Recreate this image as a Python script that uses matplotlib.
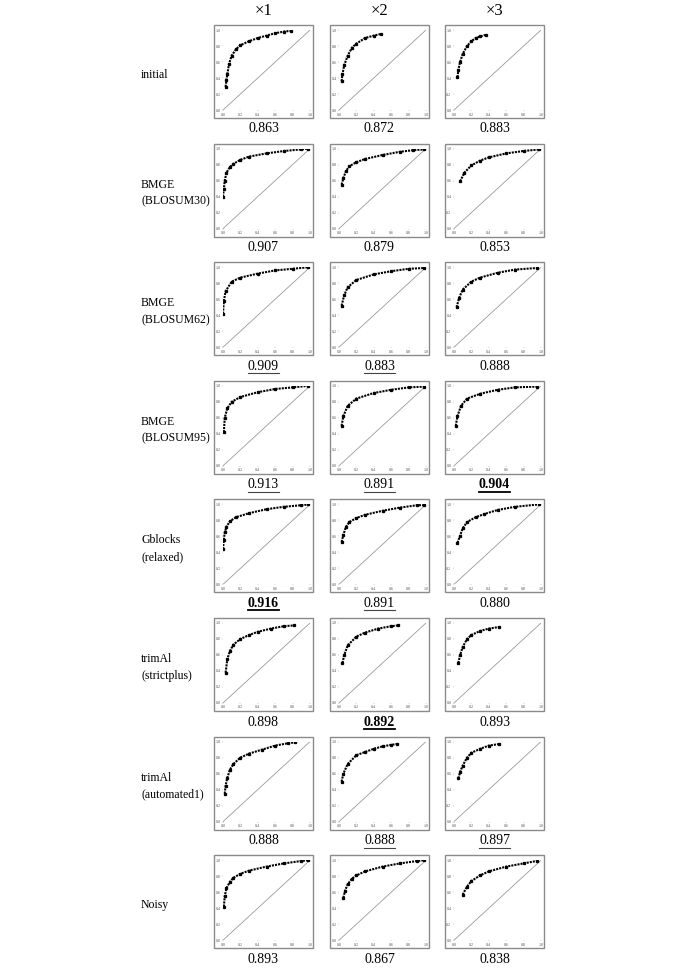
import matplotlib
matplotlib.use("Agg")
import matplotlib.pyplot as plt
from matplotlib.patches import Rectangle
from matplotlib.lines import Line2D

W, H = 685, 969
col_titles = ["×1", "×2", "×3"]
row_labels = ["initial", "BMGE\n(BLOSUM30)", "BMGE\n(BLOSUM62)", "BMGE\n(BLOSUM95)",
              "Gblocks\n(relaxed)", "trimAl\n(strictplus)", "trimAl\n(automated1)", "Noisy"]

# AUC values and styles ("p" plain, "u" underline, "b" bold+underline)
auc_values = [
    ["0.863", "0.872", "0.883"],
    ["0.907", "0.879", "0.853"],
    ["0.909", "0.883", "0.888"],
    ["0.913", "0.891", "0.904"],
    ["0.916", "0.891", "0.880"],
    ["0.898", "0.892", "0.893"],
    ["0.888", "0.888", "0.897"],
    ["0.893", "0.867", "0.838"],
]
auc_styles = [
    ["p", "p", "p"],
    ["p", "p", "p"],
    ["u", "u", "p"],
    ["u", "u", "b"],
    ["b", "u", "p"],
    ["p", "b", "p"],
    ["p", "u", "u"],
    ["p", "p", "p"],
]

# ROC curve points (false positive rate, true positive rate) per panel
fpr_initial_1 = [0.03, 0.04, 0.05, 0.07, 0.10, 0.15, 0.20, 0.30, 0.40, 0.50, 0.60, 0.70, 0.78]
tpr_initial_1 = [0.29, 0.38, 0.45, 0.58, 0.68, 0.76, 0.81, 0.86, 0.90, 0.93, 0.96, 0.98, 0.99]
fpr_initial_2 = [0.03, 0.04, 0.06, 0.10, 0.15, 0.20, 0.30, 0.40, 0.48]
tpr_initial_2 = [0.36, 0.45, 0.56, 0.68, 0.78, 0.83, 0.90, 0.93, 0.95]
fpr_initial_3 = [0.04, 0.05, 0.07, 0.10, 0.15, 0.20, 0.25, 0.30, 0.37]
tpr_initial_3 = [0.41, 0.50, 0.60, 0.70, 0.80, 0.86, 0.90, 0.92, 0.94]

fpr_b30_1 = [0.00, 0.01, 0.02, 0.04, 0.08, 0.12, 0.20, 0.30, 0.50, 0.70, 0.90, 0.98]
tpr_b30_1 = [0.40, 0.50, 0.60, 0.70, 0.77, 0.81, 0.86, 0.90, 0.94, 0.97, 0.99, 1.00]
fpr_b30_2 = [0.03, 0.05, 0.08, 0.12, 0.20, 0.30, 0.50, 0.70, 0.85, 0.98]
tpr_b30_2 = [0.55, 0.63, 0.72, 0.78, 0.83, 0.87, 0.92, 0.96, 0.98, 0.99]
fpr_b30_3 = [0.07, 0.12, 0.20, 0.30, 0.40, 0.60, 0.80, 0.98]
tpr_b30_3 = [0.59, 0.70, 0.79, 0.85, 0.89, 0.94, 0.97, 0.99]

fpr_b62_1 = [0.00, 0.01, 0.03, 0.10, 0.20, 0.40, 0.60, 0.80, 0.98]
tpr_b62_1 = [0.42, 0.58, 0.70, 0.82, 0.87, 0.92, 0.96, 0.98, 1.00]
fpr_b62_2 = [0.03, 0.06, 0.10, 0.20, 0.40, 0.60, 0.80, 0.98]
tpr_b62_2 = [0.52, 0.65, 0.75, 0.84, 0.91, 0.95, 0.98, 0.99]
fpr_b62_3 = [0.03, 0.06, 0.10, 0.20, 0.30, 0.50, 0.70, 0.95]
tpr_b62_3 = [0.50, 0.62, 0.72, 0.82, 0.87, 0.93, 0.97, 0.99]

fpr_b95_1 = [0.01, 0.02, 0.05, 0.10, 0.20, 0.40, 0.60, 0.80, 0.98]
tpr_b95_1 = [0.42, 0.60, 0.72, 0.80, 0.86, 0.92, 0.96, 0.98, 1.00]
fpr_b95_2 = [0.03, 0.05, 0.10, 0.20, 0.40, 0.60, 0.80, 0.98]
tpr_b95_2 = [0.50, 0.62, 0.75, 0.84, 0.91, 0.95, 0.98, 0.99]
fpr_b95_3 = [0.02, 0.04, 0.08, 0.15, 0.30, 0.50, 0.70, 0.95]
tpr_b95_3 = [0.50, 0.62, 0.75, 0.84, 0.90, 0.95, 0.98, 0.99]

fpr_gb_1 = [0.00, 0.01, 0.02, 0.04, 0.08, 0.15, 0.30, 0.50, 0.70, 0.90, 0.98]
tpr_gb_1 = [0.44, 0.56, 0.65, 0.72, 0.79, 0.84, 0.89, 0.94, 0.97, 0.99, 1.00]
fpr_gb_2 = [0.03, 0.05, 0.08, 0.12, 0.20, 0.30, 0.50, 0.70, 0.90, 0.98]
tpr_gb_2 = [0.53, 0.62, 0.72, 0.78, 0.83, 0.87, 0.92, 0.96, 0.99, 0.99]
fpr_gb_3 = [0.04, 0.07, 0.10, 0.15, 0.25, 0.35, 0.50, 0.70, 0.98]
tpr_gb_3 = [0.52, 0.61, 0.70, 0.78, 0.84, 0.88, 0.93, 0.97, 1.00]

fpr_sp_1 = [0.03, 0.05, 0.08, 0.12, 0.20, 0.30, 0.40, 0.55, 0.70, 0.82]
tpr_sp_1 = [0.38, 0.55, 0.65, 0.73, 0.80, 0.85, 0.89, 0.93, 0.96, 0.97]
fpr_sp_2 = [0.04, 0.06, 0.10, 0.20, 0.30, 0.45, 0.60, 0.68]
tpr_sp_2 = [0.50, 0.60, 0.72, 0.83, 0.88, 0.93, 0.96, 0.97]
fpr_sp_3 = [0.05, 0.07, 0.10, 0.15, 0.20, 0.30, 0.40, 0.52]
tpr_sp_3 = [0.50, 0.60, 0.70, 0.80, 0.85, 0.90, 0.93, 0.95]

fpr_au_1 = [0.02, 0.03, 0.05, 0.08, 0.12, 0.20, 0.30, 0.45, 0.60, 0.75, 0.83]
tpr_au_1 = [0.35, 0.45, 0.55, 0.65, 0.72, 0.80, 0.85, 0.90, 0.95, 0.98, 0.99]
fpr_au_2 = [0.03, 0.05, 0.10, 0.20, 0.30, 0.40, 0.50, 0.60, 0.67]
tpr_au_2 = [0.50, 0.60, 0.72, 0.83, 0.87, 0.91, 0.94, 0.96, 0.97]
fpr_au_3 = [0.05, 0.07, 0.10, 0.15, 0.20, 0.30, 0.40, 0.52]
tpr_au_3 = [0.54, 0.62, 0.70, 0.80, 0.86, 0.91, 0.95, 0.97]

fpr_no_1 = [0.01, 0.02, 0.04, 0.08, 0.12, 0.20, 0.30, 0.50, 0.70, 0.90, 0.98]
tpr_no_1 = [0.42, 0.55, 0.65, 0.73, 0.78, 0.83, 0.87, 0.92, 0.96, 0.99, 1.00]
fpr_no_2 = [0.05, 0.07, 0.10, 0.15, 0.20, 0.30, 0.50, 0.70, 0.90, 0.98]
tpr_no_2 = [0.53, 0.62, 0.70, 0.77, 0.81, 0.86, 0.92, 0.96, 0.99, 1.00]
fpr_no_3 = [0.10, 0.15, 0.20, 0.30, 0.40, 0.60, 0.80, 0.95]
tpr_no_3 = [0.57, 0.67, 0.74, 0.81, 0.86, 0.92, 0.96, 0.99]

curves = [
    [(fpr_initial_1, tpr_initial_1), (fpr_initial_2, tpr_initial_2), (fpr_initial_3, tpr_initial_3)],
    [(fpr_b30_1, tpr_b30_1), (fpr_b30_2, tpr_b30_2), (fpr_b30_3, tpr_b30_3)],
    [(fpr_b62_1, tpr_b62_1), (fpr_b62_2, tpr_b62_2), (fpr_b62_3, tpr_b62_3)],
    [(fpr_b95_1, tpr_b95_1), (fpr_b95_2, tpr_b95_2), (fpr_b95_3, tpr_b95_3)],
    [(fpr_gb_1, tpr_gb_1), (fpr_gb_2, tpr_gb_2), (fpr_gb_3, tpr_gb_3)],
    [(fpr_sp_1, tpr_sp_1), (fpr_sp_2, tpr_sp_2), (fpr_sp_3, tpr_sp_3)],
    [(fpr_au_1, tpr_au_1), (fpr_au_2, tpr_au_2), (fpr_au_3, tpr_au_3)],
    [(fpr_no_1, tpr_no_1), (fpr_no_2, tpr_no_2), (fpr_no_3, tpr_no_3)],
]
tick_vals = [0.0, 0.2, 0.4, 0.6, 0.8, 1.0]
tick_labels = ["0.0", "0.2", "0.4", "0.6", "0.8", "1.0"]

plt.rcParams['font.family'] = ['Liberation Serif', 'DejaVu Serif']

fig = plt.figure(figsize=(W / 100, H / 100), dpi=100)

frame_left = [214, 330, 445]
frame_w = 99
frame_h = 93
row_step = 118.6
frame_top0 = 25


def fx(px):
    return px / W


def fy(py):
    return 1 - py / H


grey = "#8a8a8a"
texts_to_underline = []
for r in range(8):
    top = frame_top0 + r * row_step
    for c in range(3):
        left = frame_left[c]
        fig.patches.append(Rectangle((fx(left), fy(top + frame_h)), frame_w / W, frame_h / H,
                                     transform=fig.transFigure, fill=False,
                                     edgecolor=grey, linewidth=1.0))
        ax_l = left + 9
        ax_w = 87
        ax_t = top + 5
        ax_h = 80
        ax = fig.add_axes([fx(ax_l), fy(ax_t + ax_h), ax_w / W, ax_h / H])
        ax.set_xlim(0, 1)
        ax.set_ylim(0, 1)
        for s in ax.spines.values():
            s.set_visible(False)
        ax.set_xticks(tick_vals)
        ax.set_yticks(tick_vals)
        ax.set_xticklabels(tick_labels, fontsize=3, color="#555555")
        ax.set_yticklabels(tick_labels, fontsize=3, color="#555555")
        ax.tick_params(length=1.0, width=0.3, pad=0.8, color="#999999")
        ax.patch.set_alpha(0)
        ax.plot(tick_vals, tick_vals, color="#9a9a9a", linewidth=0.6)
        x, y = curves[r][c]
        ax.plot(x, y, color="black", linewidth=1.5, linestyle=(0, (1.0, 0.5)),
                marker='s', markersize=1.4, solid_capstyle="butt")
        st = auc_styles[r][c]
        t = fig.text(fx(left + frame_w / 2), fy(top + frame_h + 11), auc_values[r][c],
                     ha="center", va="center", fontsize=10,
                     fontweight="bold" if st == "b" else "normal")
        if st in ("u", "b"):
            texts_to_underline.append((t, st))
    fig.text(fx(141), fy(top + frame_h / 2 + 3), row_labels[r], ha="left", va="center",
             fontsize=8.5, linespacing=1.55)

for c in range(3):
    fig.text(fx(frame_left[c] + frame_w / 2), fy(11), col_titles[c], ha="center", va="center",
             fontsize=12)

fig.canvas.draw()
renderer = fig.canvas.get_renderer()
for t, st in texts_to_underline:
    bb = t.get_window_extent(renderer=renderer)
    yline = bb.y0 - 0.5
    fig.add_artist(Line2D([bb.x0 / W, bb.x1 / W], [yline / H] * 2,
                          transform=fig.transFigure,
                          color="black" if st == "b" else "#444444",
                          linewidth=1.3 if st == "b" else 0.8))

fig.savefig("out.png", dpi=100)
